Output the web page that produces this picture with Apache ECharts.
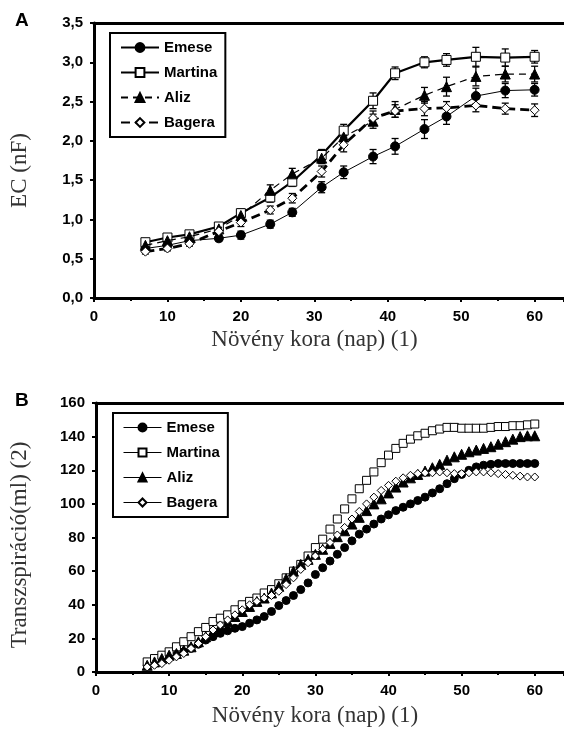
<!DOCTYPE html>
<html>
<head>
<meta charset="utf-8">
<script src="https://cdn.jsdelivr.net/npm/echarts@6/dist/echarts.min.js"></script>
<style>
html, body { margin: 0; padding: 0; background: #fff; }
#chart { width: 564px; height: 731px; }
</style>
</head>
<body>
<div id="chart"></div>
<script>
// Panel A - EC (nF)
var daysA = [7, 10, 13, 17, 20, 24, 27, 31, 34, 38, 41, 45, 48, 52, 56, 60];
var emeseA   = [0.63, 0.67, 0.73, 0.76, 0.80, 0.94, 1.09, 1.41, 1.60, 1.80, 1.93, 2.15, 2.31, 2.57, 2.64, 2.65];
var martinaA = [0.71, 0.77, 0.81, 0.91, 1.08, 1.28, 1.48, 1.82, 2.13, 2.51, 2.86, 3.00, 3.03, 3.07, 3.06, 3.07];
var alizA    = [0.67, 0.73, 0.78, 0.88, 1.05, 1.37, 1.58, 1.78, 2.05, 2.25, 2.40, 2.58, 2.69, 2.82, 2.85, 2.85];
var bageraA  = [0.59, 0.63, 0.69, 0.85, 0.96, 1.12, 1.27, 1.61, 1.95, 2.29, 2.38, 2.41, 2.42, 2.45, 2.41, 2.39];
var emeseErr   = [0.03, 0.03, 0.03, 0.04, 0.05, 0.05, 0.05, 0.07, 0.08, 0.09, 0.10, 0.12, 0.10, 0.10, 0.09, 0.08];
var martinaErr = [0.03, 0.03, 0.03, 0.04, 0.05, 0.06, 0.06, 0.07, 0.08, 0.10, 0.08, 0.07, 0.08, 0.12, 0.11, 0.08];
var alizErr    = [0.03, 0.03, 0.03, 0.04, 0.05, 0.07, 0.07, 0.07, 0.08, 0.09, 0.10, 0.10, 0.12, 0.12, 0.10, 0.10];
var bageraErr  = [0.03, 0.03, 0.03, 0.04, 0.05, 0.05, 0.06, 0.07, 0.09, 0.09, 0.08, 0.09, 0.08, 0.08, 0.07, 0.08];

// Panel B - Transzspiráció (ml)
var daysB = [7, 8, 9, 10, 11, 12, 13, 14, 15, 16, 17, 18, 19, 20, 21, 22, 23, 24, 25, 26, 27,
             28, 29, 30, 31, 32, 33, 34, 35, 36, 37, 38, 39, 40, 41, 42, 43, 44, 45, 46, 47,
             48, 49, 50, 51, 52, 53, 54, 55, 56, 57, 58, 59, 60];
var emeseB   = [4, 5.5, 7, 8.5, 10, 12, 14, 16.5, 19, 21, 23, 24.5, 26, 27, 29, 31, 33, 36, 39.5, 42.5, 45.5,
                49, 53, 58, 62, 66, 70, 74, 78, 82, 85, 88, 91, 93.5, 96, 98, 100, 102, 104, 106.5, 109,
                112, 115, 117.5, 120, 122, 123, 123.5, 124, 124, 124, 124, 124, 124];
var martinaB = [6, 8, 10, 12, 15, 18, 21, 24, 26.5, 30, 32, 34, 37, 40, 42, 44, 47, 49, 52.5, 56, 60,
                64, 69, 74, 79, 85, 91, 97, 103, 109, 114, 119, 124.5, 129, 133, 136, 138.5, 140.5, 142, 143.5, 144.5,
                145.5, 145.5, 145, 145, 145, 145, 145.5, 146, 146, 146.5, 146.5, 147, 147.5];
var alizB    = [4, 6, 8, 10, 11, 13, 15, 18, 21, 24, 27, 30, 33, 36, 39, 42, 44, 47, 51, 55.5, 60,
                64, 67, 70, 73, 76.5, 80.5, 84, 88, 92, 96, 100, 103, 106.5, 110, 113, 115.5, 117.5, 119.5, 121.5, 123.5,
                126, 128, 129.5, 131, 132, 133, 134, 135.5, 137, 138.5, 140, 140.5, 140.5];
var bageraB  = [3, 4, 5, 7, 9, 11, 14, 17, 21, 25, 28, 31, 34, 37, 40, 42, 44, 45.5, 48, 52, 56,
                61, 65, 69, 73, 77, 81.5, 86, 91, 95.5, 100, 104, 108, 111, 113.5, 115.5, 117, 118, 118.5, 118.5, 119,
                118.5, 118, 118, 118.5, 119, 119, 118.5, 118, 117.5, 117, 116.5, 116, 116];

var names = ['Emese', 'Martina', 'Aliz', 'Bagera'];

var chart = echarts.init(document.getElementById('chart'));

var labelFont = { color: '#000', fontFamily: 'Liberation Sans, Arial', fontWeight: 'bold', fontSize: 15 };
var nameFont = { color: '#333', fontFamily: 'Liberation Serif, Times New Roman', fontSize: 23 };

function pairs(xs, ys) {
    return xs.map(function (x, i) { return [x, ys[i]]; });
}
function errData(xs, ys, es) {
    return xs.map(function (x, i) { return [x, ys[i] - es[i], ys[i] + es[i]]; });
}
function errRender(params, api) {
    var x = api.value(0);
    var top = api.coord([x, api.value(2)]);
    var bot = api.coord([x, api.value(1)]);
    var w = 3.5;
    var st = { stroke: '#000', lineWidth: 1.3 };
    return {
        type: 'group',
        children: [
            { type: 'line', shape: { x1: top[0], y1: top[1], x2: bot[0], y2: bot[1] }, style: st },
            { type: 'line', shape: { x1: top[0] - w, y1: top[1], x2: top[0] + w, y2: top[1] }, style: st },
            { type: 'line', shape: { x1: bot[0] - w, y1: bot[1], x2: bot[0] + w, y2: bot[1] }, style: st }
        ]
    };
}

function xAxisFor(grid, gap, pad) {
    return {
        gridIndex: grid, type: 'value', min: 0, max: 64, interval: 10,
        name: 'Növény kora (nap) (1)', nameLocation: 'middle', nameGap: gap,
        nameTextStyle: Object.assign({ padding: [0, pad, 0, 0] }, nameFont),
        axisLine: { lineStyle: { color: '#000', width: 3 } },
        axisTick: { length: 4, lineStyle: { color: '#000', width: 2 } },
        minorTick: { show: true, splitNumber: 2, length: 3, lineStyle: { color: '#000', width: 2 } },
        axisLabel: Object.assign({ margin: 11, showMaxLabel: false }, labelFont),
        splitLine: { show: false }
    };
}
function topAxis(grid) {
    return {
        gridIndex: grid, type: 'value', min: 0, max: 64, position: 'top',
        axisLine: { show: true, lineStyle: { color: '#000', width: 3 } },
        axisTick: { show: false }, axisLabel: { show: false }, splitLine: { show: false }
    };
}

var symbols = ['circle', 'rect', 'triangle', 'diamond'];
var fills = ['#000', '#fff', '#000', '#fff'];
var sizesA = [9, 9, 10, 9];
var lineA = [
    { width: 1, type: 'solid' },
    { width: 2.2, type: 'solid' },
    { width: 1.2, type: [7, 5] },
    { width: 2.8, type: [9, 5] }
];
var dataA = [emeseA, martinaA, alizA, bageraA];
var errA = [emeseErr, martinaErr, alizErr, bageraErr];
var dataB = [emeseB, martinaB, alizB, bageraB];

var series = [];
names.forEach(function (n, i) {
    series.push({
        type: 'custom', xAxisIndex: 0, yAxisIndex: 0,
        renderItem: errRender, data: errData(daysA, dataA[i], errA[i]),
        silent: true, z: 1
    });
});
names.forEach(function (n, i) {
    series.push({
        name: n, type: 'line', xAxisIndex: 0, yAxisIndex: 0,
        data: pairs(daysA, dataA[i]),
        symbol: symbols[i], symbolSize: sizesA[i], showAllSymbol: true,
        lineStyle: Object.assign({ color: '#000' }, lineA[i]),
        itemStyle: { color: fills[i], borderColor: '#000', borderWidth: 1 },
        z: 3 + i, animation: false
    });
});
names.forEach(function (n, i) {
    series.push({
        name: 'B ' + n, type: 'line', xAxisIndex: 2, yAxisIndex: 1,
        data: pairs(daysB, dataB[i]),
        symbol: symbols[i], symbolSize: i === 2 ? 10 : 8, showAllSymbol: true,
        lineStyle: { opacity: 0 },
        itemStyle: { color: fills[i], borderColor: '#000', borderWidth: 1 },
        z: 3 + i, animation: false
    });
});

var legendBase = {
    orient: 'vertical', itemWidth: 38, itemGap: 8,
    backgroundColor: '#fff', borderColor: '#000', borderWidth: 2,
    padding: [6, 8, 6, 10], selectedMode: false,
    textStyle: { color: '#000', fontFamily: 'Liberation Sans, Arial', fontWeight: 'bold', fontSize: 15, lineHeight: 17 },
    formatter: function (n) { return n.replace(/^B /, ''); }
};

var option = {
    animation: false,
    backgroundColor: '#fff',
    title: [
        { text: 'A', left: 10, top: 6, textStyle: { fontFamily: 'Liberation Sans, Arial', fontWeight: 'bold', fontSize: 19, color: '#000' } },
        { text: 'B', left: 10, top: 386, textStyle: { fontFamily: 'Liberation Sans, Arial', fontWeight: 'bold', fontSize: 19, color: '#000' } }
    ],
    legend: [
        Object.assign({}, legendBase, { left: 110, top: 33, itemHeight: 11, data: names }),
        Object.assign({}, legendBase, {
            left: 113, top: 413, itemHeight: 10,
            data: names.map(function (n) { return { name: 'B ' + n }; }),
            lineStyle: { opacity: 1, width: 1, color: '#000' }
        })
    ],
    grid: [
        { left: 93, top: 23, right: 0, height: 275 },
        { left: 96, top: 403, right: 0, height: 269 }
    ],
    xAxis: [xAxisFor(0, 30, 29), topAxis(0), xAxisFor(1, 32, 30), topAxis(1)],
    yAxis: [
        {
            gridIndex: 0, type: 'value', min: 0, max: 3.5, interval: 0.5,
            name: 'EC (nF)', nameLocation: 'middle', nameGap: 63,
            nameTextStyle: Object.assign({ padding: [0, 20, 0, 0] }, nameFont),
            axisLine: { show: true, lineStyle: { color: '#000', width: 3 } },
            axisTick: { show: true, length: 4, lineStyle: { color: '#000', width: 2 } },
            axisLabel: Object.assign({ margin: 11, formatter: function (v) { return v.toFixed(1).replace('.', ','); } }, labelFont),
            splitLine: { show: false }
        },
        {
            gridIndex: 1, type: 'value', min: 0, max: 160, interval: 20,
            name: 'Transzspiráció(ml) (2)', nameLocation: 'middle', nameGap: 65,
            nameTextStyle: Object.assign({ padding: [0, 15, 0, 0] }, nameFont),
            axisLine: { show: true, lineStyle: { color: '#000', width: 3 } },
            axisTick: { show: true, length: 4, lineStyle: { color: '#000', width: 2 } },
            axisLabel: Object.assign({ margin: 11 }, labelFont),
            splitLine: { show: false }
        }
    ],
    series: series
};

chart.setOption(option);
</script>
</body>
</html>
